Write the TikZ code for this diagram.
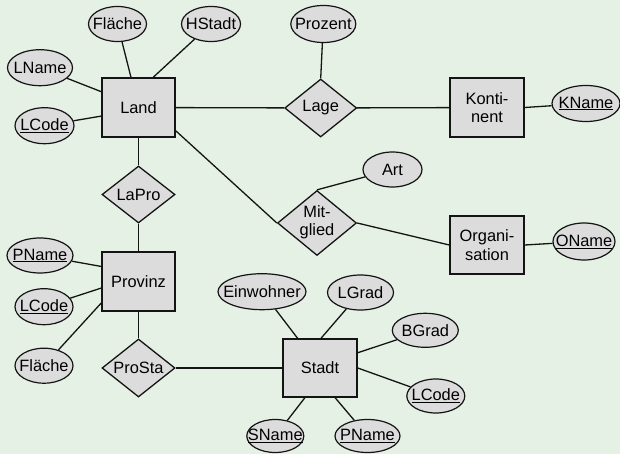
\documentclass[tikz,border=0pt]{standalone}
\usepackage{fontspec}
\setmainfont{Liberation Sans}
\usetikzlibrary{shapes.geometric}
\definecolor{bgcol}{RGB}{229,241,229}
\definecolor{shapefill}{RGB}{220,220,220}
\definecolor{ink}{RGB}{20,20,20}
\pgfdeclarelayer{paper}
\pgfdeclarelayer{wires}
\pgfsetlayers{paper,wires,main}
\tikzset{
  entity/.style={rectangle, draw=ink, fill=shapefill, line width=1.5pt, inner sep=0pt, align=center},
  rel/.style={diamond, draw=ink, fill=shapefill, line width=1.3pt, inner sep=0pt},
  attr/.style={ellipse, draw=ink, fill=shapefill, line width=1.2pt, inner sep=0pt, minimum height=35pt},
  link/.style={draw=ink, line width=1.3pt},
}
\newcommand\ctr[1]{\makebox[0pt]{#1}}
\newcommand\keyattr[1]{\makebox[0pt]{\underline{#1}}}
\begin{document}
\begin{tikzpicture}[x=1pt, y=-1pt, font=\fontsize{16.4}{18.6}\selectfont]
  \begin{pgfonlayer}{paper}
    \fill[bgcol] (0,0) rectangle (620,454);
  \end{pgfonlayer}
  \useasboundingbox (0,0) rectangle (620,454);

  % entities
  \node[entity, minimum width=73pt, minimum height=59pt] (land) at (138.5,107.5) {Land};
  \node[entity, minimum width=74pt, minimum height=59pt] (kont) at (487,107.5) {Konti-\\nent};
  \node[entity, minimum width=74pt, minimum height=58pt] (org)  at (487,245) {Organi-\\sation};
  \node[entity, minimum width=73pt, minimum height=59pt] (prov) at (138.5,281.5) {Provinz};
  \node[entity, minimum width=74pt, minimum height=58pt] (stadt) at (320,368) {Stadt};

  % relationships
  \node[rel, minimum width=72pt, minimum height=58pt] (lage)   at (320.7,108) {\ctr{Lage}};
  \node[rel, minimum width=73pt, minimum height=57pt] (lapro)  at (138.5,194.5) {\ctr{LaPro}};
  \node[rel, minimum width=79pt, minimum height=65pt] (mit)    at (317,223) {\ctr{\begin{tabular}{@{}c@{}}Mit-\\[-1pt]glied\end{tabular}}};
  \node[rel, minimum width=73pt, minimum height=58pt] (prosta) at (138.5,368) {\ctr{ProSta}};

  % attributes of Land
  \node[attr, minimum width=58pt] (lflaeche) at (117.5,24) {\ctr{Fläche}};
  \node[attr, minimum width=59pt] (hstadt)   at (211,24) {\ctr{HStadt}};
  \node[attr, minimum width=65pt, minimum height=36pt] (lname) at (40,67.7) {\ctr{LName}};
  \node[attr, minimum width=59pt, minimum height=36pt] (lcodeA) at (44.5,125.7) {\keyattr{LCode}};

  % attributes of Lage, Kontinent, Mitglied, Organisation
  \node[attr, minimum width=65pt, minimum height=37pt] (prozent) at (323.3,24) {\ctr{Prozent}};
  \node[attr, minimum width=68pt, minimum height=36pt] (kname) at (586,103.5) {\keyattr{KName}};
  \node[attr, minimum width=59pt] (art) at (392.5,169.5) {\ctr{Art}};
  \node[attr, minimum width=62pt, minimum height=37pt] (oname) at (584,241.5) {\keyattr{OName}};

  % attributes of Provinz
  \node[attr, minimum width=66pt] (pnameA)   at (40,255.5) {\keyattr{PName}};
  \node[attr, minimum width=58pt, minimum height=36pt] (lcodeB) at (44,306.7) {\keyattr{LCode}};
  \node[attr, minimum width=58pt] (pflaeche) at (44,365.7) {\ctr{Fläche}};

  % attributes of Stadt
  \node[attr, minimum width=88pt, minimum height=36pt] (einw) at (262,291.7) {\ctr{Einwohner}};
  \node[attr, minimum width=66pt] (lgrad)  at (360.5,292.5) {\ctr{LGrad}};
  \node[attr, minimum width=66pt, minimum height=34pt] (bgrad) at (425.3,330.3) {\ctr{BGrad}};
  \node[attr, minimum width=58pt, minimum height=34pt] (lcodeC) at (435.8,396) {\keyattr{LCode}};
  \node[attr, minimum width=57pt, minimum height=33pt] (sname) at (275.3,436) {\keyattr{SName}};
  \node[attr, minimum width=65pt, minimum height=33pt] (pnameB) at (367.5,436) {\keyattr{PName}};

  % connectors, kept underneath the shapes
  \begin{pgfonlayer}{wires}
    % relationship lines
    \draw[link] (land) -- (lapro);
    \draw[link] (lapro) -- (prov);
    \draw[link] (prov) -- (prosta);
    \draw[link] (prosta) -- (stadt);
    \draw[link] (land) -- (lage);
    \draw[link] (lage) -- (kont);
    \draw[link] (land.328) -- (mit.west);
    \draw[link] (mit.east) -- (org.west);
    % attribute lines
    \draw[link] (lflaeche) -- (land.104);
    \draw[link] (hstadt) -- (land.64);
    \draw[link] (lname) -- (land.157);
    \draw[link] (lcodeA) -- (land.193);
    \draw[link] (prozent) -- (lage.north);
    \draw[link] (kname) -- (kont.east);
    \draw[link] (art) -- (mit.north);
    \draw[link] (oname) -- (org.east);
    \draw[link] (pnameA) -- (prov.158);
    \draw[link] (lcodeB) -- (prov.190);
    \draw[link] (pflaeche) -- (prov.210);
    \draw[link] (einw) -- (stadt.127);
    \draw[link] (lgrad) -- (stadt.88);
    \draw[link] (bgrad) -- (stadt.22);
    \draw[link] (lcodeC) -- (stadt.0);
    \draw[link] (sname) -- (stadt.243);
    \draw[link] (pnameB) -- (stadt.297);
  \end{pgfonlayer}
\end{tikzpicture}
\end{document}
